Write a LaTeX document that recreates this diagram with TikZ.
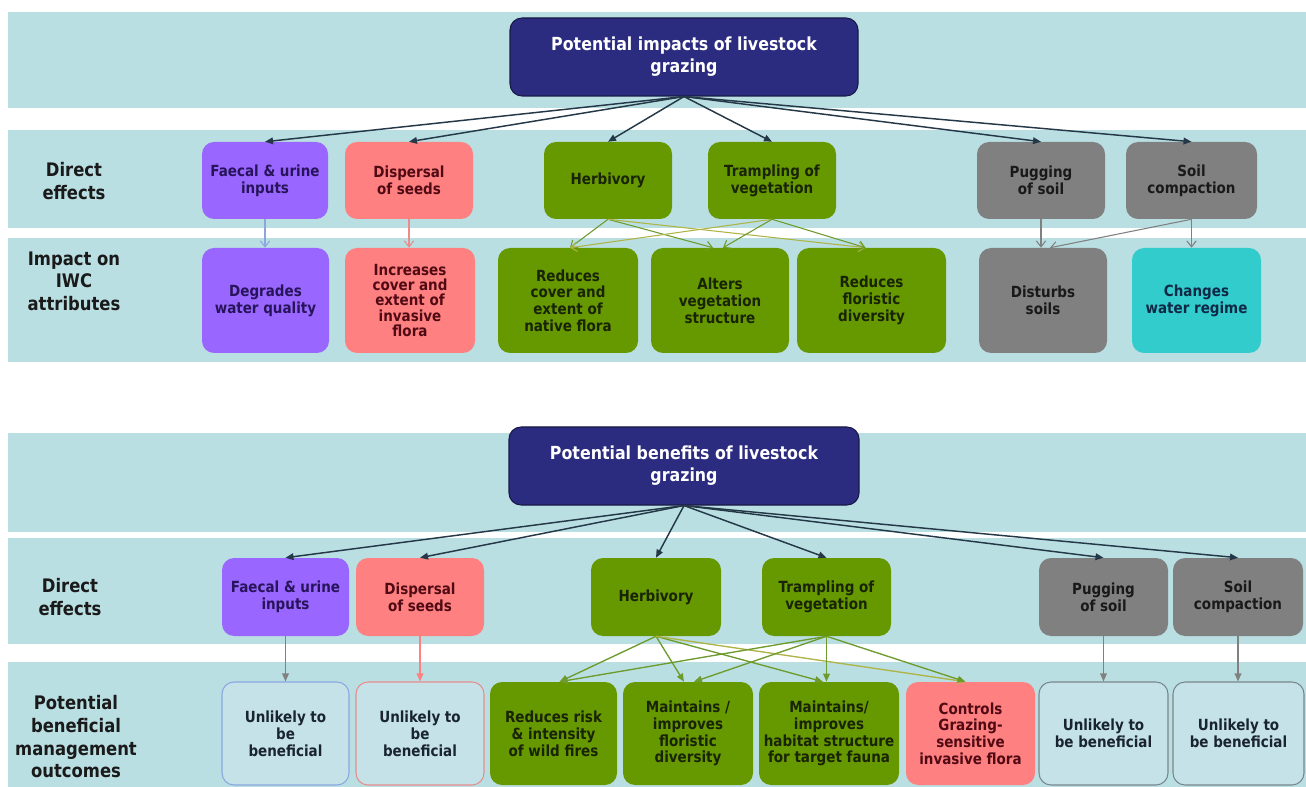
\documentclass[tikz,border=0pt]{standalone}
\usepackage{fontspec}
\setmainfont{DejaVu Sans}[FakeStretch=0.88]
\usetikzlibrary{arrows.meta,calc}
\definecolor{band}{RGB}{186,223,227}
\definecolor{navy}{RGB}{43,43,128}
\definecolor{navyd}{RGB}{25,25,70}
\definecolor{purp}{RGB}{153,102,255}
\definecolor{purpt}{RGB}{40,20,90}
\definecolor{salm}{RGB}{255,128,128}
\definecolor{salmt}{RGB}{80,10,20}
\definecolor{grn}{RGB}{102,153,0}
\definecolor{grnt}{RGB}{25,35,5}
\definecolor{gry}{RGB}{128,128,128}
\definecolor{gryt}{RGB}{25,25,25}
\definecolor{cyn}{RGB}{51,204,204}
\definecolor{cynt}{RGB}{15,40,70}
\definecolor{pale}{RGB}{196,226,232}
\definecolor{palet}{RGB}{25,35,50}
\definecolor{peri}{RGB}{140,165,225}
\definecolor{pinkb}{RGB}{232,140,140}
\definecolor{grayb}{RGB}{120,135,140}
\definecolor{darkln}{RGB}{36,56,72}
\definecolor{gln}{RGB}{110,155,45}
\definecolor{yln}{RGB}{175,180,70}
\definecolor{lblc}{RGB}{26,26,26}
\newcommand\mkbox[7]{\node[#6,minimum width={(#4-#2)*0.75pt},minimum height={(#5-#3)*0.75pt}] (#1) at ({(#2+#4)/2},{(#3+#5)/2}) {#7};}
\begin{document}
\begin{tikzpicture}[x=0.75pt,y=-0.75pt,
  box/.style={rounded corners=9pt,align=center,inner sep=1pt,font=\bfseries\fontsize{11.5}{12.6}\selectfont},
  titlebox/.style={box,fill=navy,draw=navyd,line width=0.8pt,text=white,font=\bfseries\fontsize{13.5}{16.5}\selectfont},
  purpbox/.style={box,fill=purp,text=purpt},
  salmbox/.style={box,fill=salm,text=salmt},
  grnbox/.style={box,fill=grn,text=grnt},
  grybox/.style={box,fill=gry,text=gryt},
  cynbox/.style={box,fill=cyn,text=cynt},
  palebox/.style={box,fill=pale,text=palet,line width=0.8pt},
  lbl/.style={align=center,font=\bfseries\fontsize{14}{16.8}\selectfont,text=lblc},
  darr/.style={draw=darkln,line width=1.1pt,-{Triangle[length=6pt,width=5pt]}},
  barb/.style={line width=0.8pt,-{Straight Barb[length=4.5pt,width=7pt]}},
  tri/.style={line width=1pt,-{Triangle[length=6pt,width=5pt]}}
]
\useasboundingbox (0,0) rectangle (1306,787);
\fill[white] (0,0) rectangle (1306,787);
% bands
\fill[band] (8,12) rectangle (1306,108);
\fill[band] (8,130) rectangle (1306,228);
\fill[band] (8,238) rectangle (1306,362);
\fill[band] (8,433) rectangle (1306,532);
\fill[band] (8,538) rectangle (1306,644);
\fill[band] (8,662) rectangle (1306,787);
% labels
\node[lbl] (l1) at (74,181) {Direct\\effects};
\node[lbl] (l2) at (74,281) {Impact on\\IWC\\attributes};
\node[lbl] (l3) at (70,597) {Direct\\effects};
\node[lbl,font=\bfseries\fontsize{14}{17}\selectfont] (l4) at (76,737) {Potential\\beneficial\\management\\outcomes};
% top section
\mkbox{T1}{510}{18}{858}{96}{titlebox}{Potential impacts of livestock\\grazing}
\mkbox{fa}{202}{142}{328}{219}{purpbox}{Faecal \& urine\\inputs}
\mkbox{di}{345}{142}{473}{219}{salmbox}{Dispersal\\of seeds}
\mkbox{he}{544}{142}{672}{219}{grnbox}{Herbivory}
\mkbox{tr}{708}{142}{836}{219}{grnbox}{Trampling of\\vegetation}
\mkbox{pu}{977}{142}{1105}{219}{grybox}{Pugging\\of soil}
\mkbox{so}{1126}{142}{1257}{219}{grybox}{Soil\\compaction}
\mkbox{dg}{202}{248}{329}{353}{purpbox}{Degrades\\water quality}
\mkbox{in}{345}{248}{475}{353}{salmbox,font=\bfseries\fontsize{11.5}{11.3}\selectfont}{Increases\\cover and\\extent of\\invasive\\flora}
\mkbox{rc}{498}{248}{638}{353}{grnbox}{Reduces\\cover and\\extent of\\native flora}
\mkbox{al}{651}{248}{789}{353}{grnbox}{Alters\\vegetation\\structure}
\mkbox{rf}{797}{248}{946}{353}{grnbox}{Reduces\\floristic\\diversity}
\mkbox{ds}{979}{248}{1107}{353}{grybox}{Disturbs\\soils}
\mkbox{cw}{1132}{248}{1261}{353}{cynbox}{Changes\\water regime}
% bottom section
\mkbox{T2}{509}{427}{859}{505}{titlebox}{Potential benefits of livestock\\grazing}
\mkbox{bfa}{222}{558}{349}{636}{purpbox}{Faecal \& urine\\inputs}
\mkbox{bdi}{356}{558}{484}{636}{salmbox}{Dispersal\\of seeds}
\mkbox{bhe}{591}{558}{721}{636}{grnbox}{Herbivory}
\mkbox{btr}{762}{558}{891}{636}{grnbox}{Trampling of\\vegetation}
\mkbox{bpu}{1039}{558}{1168}{636}{grybox}{Pugging\\of soil}
\mkbox{bso}{1173}{558}{1303}{636}{grybox}{Soil\\compaction}
\mkbox{u1}{222}{682}{349}{785}{palebox,draw=peri}{Unlikely to\\be\\beneficial}
\mkbox{u2}{356}{682}{484}{785}{palebox,draw=pinkb}{Unlikely to\\be\\beneficial}
\mkbox{rr}{490}{682}{617}{785}{grnbox}{Reduces risk\\\& intensity\\of wild fires}
\mkbox{mf}{623}{682}{753}{785}{grnbox}{Maintains /\\improves\\floristic\\diversity}
\mkbox{mh}{759}{682}{899}{785}{grnbox}{Maintains/\\improves\\habitat structure\\for target fauna}
\mkbox{ct}{906}{682}{1035}{785}{salmbox}{Controls\\Grazing-\\sensitive\\invasive flora}
\mkbox{u3}{1039}{682}{1168}{785}{palebox,draw=grayb}{Unlikely to\\be beneficial}
\mkbox{u4}{1173}{682}{1304}{785}{palebox,draw=grayb}{Unlikely to\\be beneficial}
% top arrows
\foreach \t in {fa,di,he,tr,pu,so} \draw[darr] (T1.south) -- (\t.north);
\draw[barb,draw=peri] (fa.south) -- (fa.south |- dg.north);
\draw[barb,draw=pinkb] (di.south) -- (di.south |- in.north);
\draw[barb,draw=gln] (he.south) -- ($(rc.north)+(2,0)$);
\draw[barb,draw=gln] (he.south) -- ($(al.north)+(-7,0)$);
\draw[barb,draw=yln] (he.south) -- ($(rf.north)+(-6,0)$);
\draw[barb,draw=yln] (tr.south) -- ($(rc.north)+(2,0)$);
\draw[barb,draw=gln] (tr.south) -- ($(al.north)+(3,0)$);
\draw[barb,draw=gln] (tr.south) -- ($(rf.north)+(-6,0)$);
\draw[barb,draw=gry] (pu.south) -- (pu.south |- ds.north);
\draw[barb,draw=gry] (so.south) -- ($(ds.north)+(7,0)$);
\draw[barb,draw=gry] (so.south) -- (so.south |- cw.north);
% bottom arrows
\foreach \t in {bfa,bdi,bhe,btr,bpu,bso} \draw[darr] (T2.south) -- (\t.north);
\draw[tri,draw=gry,fill=gry] (bfa.south) -- (u1.north);
\draw[tri,draw=salm,fill=salm] (bdi.south) -- (u2.north);
\draw[tri,draw=gln,fill=gln] (bhe.south) -- ($(rr.north)+(6,0)$);
\draw[tri,draw=gln,fill=gln] (bhe.south) -- ($(mf.north)+(-4,0)$);
\draw[tri,draw=gln,fill=gln] (bhe.south) -- ($(mh.north)+(-6,0)$);
\draw[tri,draw=yln,fill=gln] (bhe.south) -- ($(ct.north)+(-5,0)$);
\draw[tri,draw=gln,fill=gln] (btr.south) -- ($(rr.north)+(6,0)$);
\draw[tri,draw=gln,fill=gln] (btr.south) -- ($(mf.north)+(6,0)$);
\draw[tri,draw=gln,fill=gln] (btr.south) -- (btr.south |- mh.north);
\draw[tri,draw=gln,fill=gln] (btr.south) -- ($(ct.north)+(-5,0)$);
\draw[tri,draw=gry,fill=gry] (bpu.south) -- (bpu.south |- u3.north);
\draw[tri,draw=gry,fill=gry] (bso.south) -- (bso.south |- u4.north);
\end{tikzpicture}
\end{document}
